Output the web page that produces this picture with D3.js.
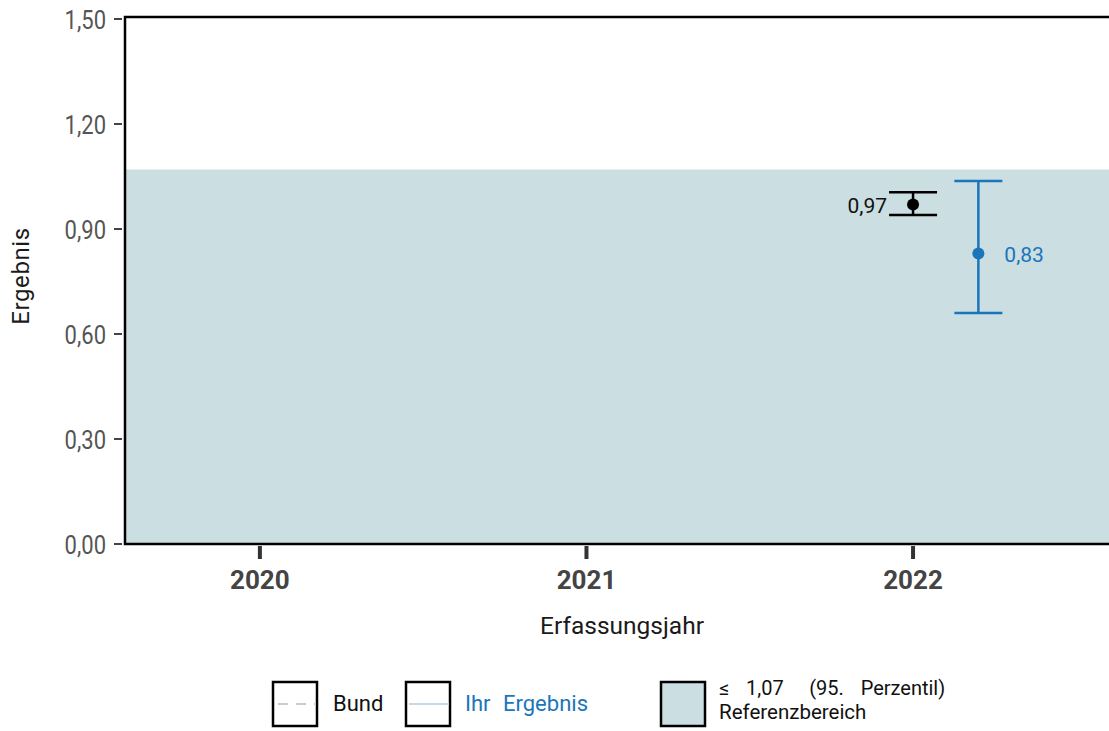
<!DOCTYPE html>
<html><head><meta charset="utf-8">
<script src="https://cdn.jsdelivr.net/npm/d3@7"></script>
<style>body{margin:0;background:#fff;} svg{font-family:Roboto, "Noto Sans", sans-serif;}</style>
</head><body>
<svg id="c" width="1109" height="731"></svg>
<script>
const years = [2020, 2021, 2022];
const yTicks = [0, 0.3, 0.6, 0.9, 1.2, 1.5];
const refUpper = 1.07;
const bundYear = [2022];
const bundValue = [0.97];
const bundLower = [0.94];
const bundUpper = [1.005];
const ihrYear = [2022];
const ihrValue = [0.83];
const ihrLower = [0.66];
const ihrUpper = [1.037];
const ihrOffset = 0.2;

const svg = d3.select('#c');
const L = 125, R = 1109, T = 17, B = 544;
const x = d3.scaleLinear().domain([2019.587, 2022.6]).range([L, R]);
const y = d3.scaleLinear().domain([0, 1.5]).range([B, 19]);
const fmt = d => d.toFixed(2).replace('.', ',');

// reference band
svg.append('rect').attr('x', L).attr('y', y(refUpper)).attr('width', R - L).attr('height', B - y(refUpper)).attr('fill', '#cbdee1');

// y axis ticks
const ya = svg.append('g');
yTicks.forEach(t => {
  ya.append('line').attr('x1', L - 11).attr('x2', L - 3).attr('y1', y(t)).attr('y2', y(t)).attr('stroke', '#444').attr('stroke-width', 2);
  ya.append('text').attr('transform', `translate(${L - 19},${y(t) + 10}) scale(0.88,1)`).attr('text-anchor', 'end')
    .attr('font-size', 25).attr('fill', '#555').text(fmt(t));
});
// x ticks
years.forEach(yr => {
  svg.append('line').attr('x1', x(yr)).attr('x2', x(yr)).attr('y1', B + 2).attr('y2', B + 15).attr('stroke', '#333').attr('stroke-width', 4);
  svg.append('text').attr('x', x(yr)).attr('y', 589).attr('text-anchor', 'middle').attr('font-size', 26).attr('font-weight', 'bold').attr('fill', '#444').text(yr);
});
// frame
svg.append('path').attr('d', `M${R},${T}H${L}V${B}H${R}`).attr('fill', 'none').attr('stroke', '#000').attr('stroke-width', 2.5);

// titles
svg.append('text').attr('x', 622).attr('y', 634).attr('text-anchor', 'middle').attr('font-size', 24.5).attr('fill', '#1a1a1a').text('Erfassungsjahr');
svg.append('text').attr('transform', 'translate(29,276) rotate(-90)').attr('text-anchor', 'middle').attr('font-size', 24).attr('letter-spacing', 0.6).attr('fill', '#1a1a1a').text('Ergebnis');

// error bars
function errbar(g, xs, v, lo, hi, color, off) {
  xs.forEach((yr, i) => {
    const cx = x(yr + off);
    g.append('line').attr('x1', cx).attr('x2', cx).attr('y1', y(lo[i])).attr('y2', y(hi[i])).attr('stroke', color).attr('stroke-width', 2.5);
    [lo[i], hi[i]].forEach(b => g.append('line').attr('x1', cx - 24).attr('x2', cx + 24).attr('y1', y(b)).attr('y2', y(b)).attr('stroke', color).attr('stroke-width', 2.5));
    g.append('circle').attr('cx', cx).attr('cy', y(v[i])).attr('r', 6).attr('fill', color);
  });
}
const g = svg.append('g');
errbar(g, bundYear, bundValue, bundLower, bundUpper, '#000', 0);
errbar(g, ihrYear, ihrValue, ihrLower, ihrUpper, '#1a75bb', ihrOffset);
bundYear.forEach((yr, i) => g.append('text').attr('x', x(yr) - 26).attr('y', y(bundValue[i]) + 8).attr('text-anchor', 'end').attr('font-size', 21).attr('fill', '#111').text(fmt(bundValue[i])));
ihrYear.forEach((yr, i) => g.append('text').attr('x', x(yr + ihrOffset) + 26).attr('y', y(ihrValue[i]) + 8).attr('font-size', 21).attr('fill', '#1a75bb').text(fmt(ihrValue[i])));

// legend
const lg = svg.append('g');
function box(x0, fill) {
  lg.append('rect').attr('x', x0).attr('y', 682).attr('width', 44).attr('height', 44).attr('fill', fill).attr('stroke', '#000').attr('stroke-width', 2.5);
}
box(273, '#fff');
lg.append('line').attr('x1', 276).attr('x2', 316).attr('y1', 704).attr('y2', 704).attr('stroke', '#ccc').attr('stroke-width', 2).attr('stroke-dasharray', '10,8').attr('stroke-dashoffset', -2);
lg.append('text').attr('x', 333).attr('y', 711).attr('font-size', 22).attr('fill', '#111').text('Bund');
box(406, '#fff');
lg.append('line').attr('x1', 409).attr('x2', 449).attr('y1', 704).attr('y2', 704).attr('stroke', '#c4dbe6').attr('stroke-width', 2);
lg.append('text').attr('x', 465).attr('y', 711).attr('font-size', 22).attr('fill', '#1a75bb').attr('word-spacing', 7).text('Ihr Ergebnis');
box(661, '#cbdee1');
lg.append('text').attr('x', 719).attr('y', 695).attr('font-size', 20).attr('fill', '#111').attr('word-spacing', 3.5).attr('xml:space', 'preserve').text('≤  1,07   (95.  Perzentil)');
lg.append('text').attr('x', 719).attr('y', 719).attr('font-size', 20.5).attr('fill', '#111').text('Referenzbereich');
</script>
</body></html>
